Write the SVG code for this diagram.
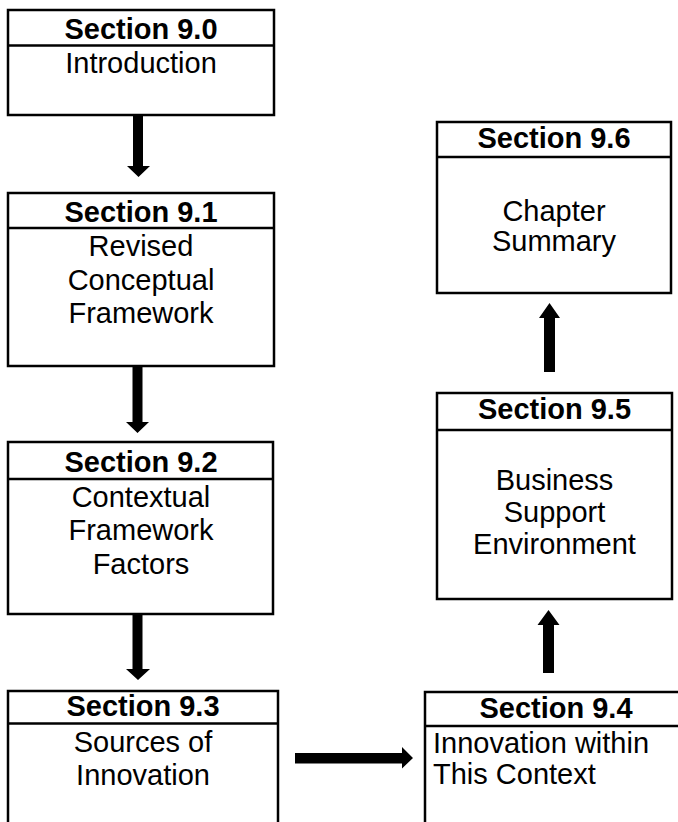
<svg xmlns="http://www.w3.org/2000/svg" width="678" height="822" viewBox="0 0 678 822">
  <style>
    .box { fill: #ffffff; stroke: #000000; stroke-width: 2.5; }
    .rule { stroke: #000000; stroke-width: 2.5; }
    .head { font-family: "Liberation Sans", Arial, sans-serif; font-size: 29px; font-weight: bold; fill: #000000; text-anchor: middle; }
    .body { font-family: "Liberation Sans", Arial, sans-serif; font-size: 29px; fill: #000000; text-anchor: middle; }
    .left { text-anchor: start; }
    .arrow { fill: #000000; stroke: none; }
  </style>
  <rect width="678" height="822" fill="#ffffff"/>

  <!-- Section nodes -->
  <g id="s90">
    <rect class="box" x="8" y="10" width="266" height="105"/>
    <line class="rule" x1="8" y1="45.5" x2="274" y2="45.5"/>
    <text class="head" x="141" y="39">Section 9.0</text>
    <text class="body" x="141" y="73">Introduction</text>
  </g>

  <g id="s91">
    <rect class="box" x="8" y="193" width="266" height="173"/>
    <line class="rule" x1="8" y1="228" x2="274" y2="228"/>
    <text class="head" x="141" y="222">Section 9.1</text>
    <text class="body" x="141" y="256">Revised</text>
    <text class="body" x="141" y="290">Conceptual</text>
    <text class="body" x="141" y="323">Framework</text>
  </g>

  <g id="s92">
    <rect class="box" x="8" y="442" width="265" height="172"/>
    <line class="rule" x1="8" y1="479" x2="273" y2="479"/>
    <text class="head" x="141" y="472">Section 9.2</text>
    <text class="body" x="141" y="507">Contextual</text>
    <text class="body" x="141" y="540">Framework</text>
    <text class="body" x="141" y="574">Factors</text>
  </g>

  <g id="s93">
    <rect class="box" x="8" y="691" width="270" height="140"/>
    <line class="rule" x1="8" y1="723.5" x2="278" y2="723.5"/>
    <text class="head" x="143" y="716">Section 9.3</text>
    <text class="body" x="143" y="752">Sources of</text>
    <text class="body" x="143" y="785">Innovation</text>
  </g>

  <g id="s94">
    <rect class="box" x="425" y="692" width="264" height="140"/>
    <line class="rule" x1="425" y1="726" x2="689" y2="726"/>
    <text class="head" x="556" y="718">Section 9.4</text>
    <text class="body left" x="433" y="753">Innovation within</text>
    <text class="body left" x="433" y="784">This Context</text>
  </g>

  <g id="s95">
    <rect class="box" x="437" y="393" width="235" height="206"/>
    <line class="rule" x1="437" y1="430" x2="672" y2="430"/>
    <text class="head" x="554.5" y="419">Section 9.5</text>
    <text class="body" x="554.5" y="490">Business</text>
    <text class="body" x="554.5" y="522">Support</text>
    <text class="body" x="554.5" y="554">Environment</text>
  </g>

  <g id="s96">
    <rect class="box" x="437" y="122" width="234" height="171"/>
    <line class="rule" x1="437" y1="157" x2="671" y2="157"/>
    <text class="head" x="554" y="148">Section 9.6</text>
    <text class="body" x="554" y="221">Chapter</text>
    <text class="body" x="554" y="251">Summary</text>
  </g>

  <!-- Block arrows between sections -->
  <g id="connectors">
    <polygon class="arrow" points="133,115 143,115 143,166 150,166 138.5,177 127,166 133,166"/>
    <polygon class="arrow" points="132.5,366 142.5,366 142.5,422 149,422 137.5,433 126,422 132.5,422"/>
    <polygon class="arrow" points="132.5,615 142.5,615 142.5,669 150,669 138,680 126,669 132.5,669"/>
    <polygon class="arrow" points="295,753 402,753 402,747 413,758 402,768.5 402,763.5 295,763.5"/>
    <polygon class="arrow" points="543,673 554,673 554,625 559.5,625 548.5,610 537.5,625 543,625"/>
    <polygon class="arrow" points="544,372 555,372 555,318 560,318 549.5,303 539,318 544,318"/>
  </g>
</svg>
